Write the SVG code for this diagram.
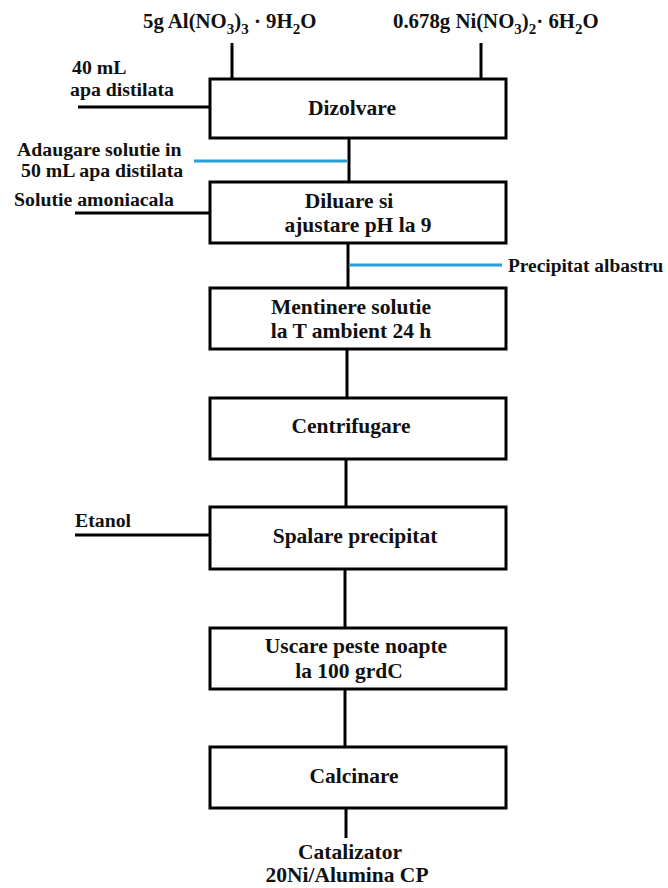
<svg xmlns="http://www.w3.org/2000/svg" width="668" height="888" viewBox="0 0 668 888">
<style>
text{font-family:"Liberation Serif","Times New Roman",serif;font-weight:bold;font-size:21.5px;fill:#111}
.side{font-size:19.8px}
.top{font-size:20.8px}
.box{fill:#fff;stroke:#000;stroke-width:3}
.ln{stroke:#000;stroke-width:3;fill:none}
.bl{stroke:#2a9fd6;stroke-width:3;fill:none}
.c{text-anchor:middle}
.sub{font-size:15px}
</style>
<rect width="668" height="888" fill="#fff"/>
<g id="connectors">
<line class="ln" x1="232" y1="43" x2="232" y2="79"/>
<line class="ln" x1="481" y1="43" x2="481" y2="79"/>
<line class="ln" x1="78" y1="107" x2="210" y2="107"/>
<line class="ln" x1="349" y1="138" x2="349" y2="182"/>
<line class="bl" x1="194" y1="161" x2="348" y2="161"/>
<line class="ln" x1="75" y1="213" x2="210" y2="213"/>
<line class="ln" x1="348" y1="243" x2="348" y2="288"/>
<line class="bl" x1="349" y1="265" x2="502" y2="265"/>
<line class="ln" x1="347" y1="349" x2="347" y2="398"/>
<line class="ln" x1="346" y1="459" x2="346" y2="507"/>
<line class="ln" x1="75" y1="535" x2="210" y2="535"/>
<line class="ln" x1="345" y1="569" x2="345" y2="628"/>
<line class="ln" x1="345" y1="689" x2="345" y2="747"/>
<line class="ln" x1="346" y1="808" x2="346" y2="838"/>
</g>
<g id="in_al"><text class="top" x="143" y="28">5g Al(NO<tspan class="sub" dy="6">3</tspan><tspan dy="-6">)</tspan><tspan class="sub" dy="6">3</tspan><tspan dy="-6"> · 9H</tspan><tspan class="sub" dy="6">2</tspan><tspan dy="-6">O</tspan></text></g>
<g id="in_ni"><text class="top" x="393" y="28">0.678g Ni(NO<tspan class="sub" dy="6">3</tspan><tspan dy="-6">)</tspan><tspan class="sub" dy="6">2</tspan><tspan dy="-6">· 6H</tspan><tspan class="sub" dy="6">2</tspan><tspan dy="-6">O</tspan></text></g>
<g id="in_water"><text class="side" x="72" y="74">40 mL</text><text class="side" x="70" y="96">apa distilata</text></g>
<g id="n1"><rect class="box" x="210" y="79" width="296" height="59"/><text class="c" x="352" y="115">Dizolvare</text></g>
<g id="in_add"><text class="side" x="17" y="156">Adaugare solutie in</text><text class="side" x="21" y="177">50 mL apa distilata</text></g>
<g id="in_amm"><text class="side" x="14" y="206">Solutie amoniacala</text></g>
<g id="n2"><rect class="box" x="210" y="182" width="296" height="61"/><text class="c" x="349" y="208">Diluare si</text><text class="c" x="358" y="232">ajustare pH la 9</text></g>
<g id="out_prec"><text class="side" x="508" y="272" style="font-size:19.4px">Precipitat albastru</text></g>
<g id="n3"><rect class="box" x="210" y="288" width="296" height="61"/><text class="c" x="351" y="314">Mentinere solutie</text><text class="c" x="351" y="338">la T ambient 24 h</text></g>
<g id="n4"><rect class="box" x="210" y="398" width="296" height="61"/><text class="c" x="351" y="433">Centrifugare</text></g>
<g id="in_et"><text class="side" x="75" y="527">Etanol</text></g>
<g id="n5"><rect class="box" x="210" y="507" width="296" height="62"/><text class="c" x="355" y="543">Spalare precipitat</text></g>
<g id="n6"><rect class="box" x="210" y="628" width="296" height="61"/><text class="c" x="356" y="653">Uscare peste noapte</text><text class="c" x="349" y="678">la 100 grdC</text></g>
<g id="n7"><rect class="box" x="210" y="747" width="296" height="61"/><text class="c" x="354" y="783">Calcinare</text></g>
<g id="out_cat"><text class="c" x="350" y="859">Catalizator</text><text class="c" x="347" y="882">20Ni/Alumina CP</text></g>
</svg>
